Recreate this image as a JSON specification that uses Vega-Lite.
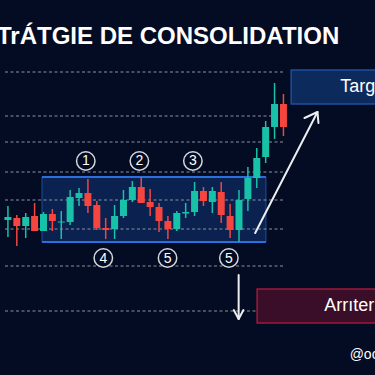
{
  "$schema": "https://vega.github.io/schema/vega-lite/v6.json",
  "width": 375,
  "height": 375,
  "autosize": {"type": "none"},
  "padding": 0,
  "background": "#030c22",
  "config": {"view": {"stroke": null}},
  "datasets": {
    "candles": [
      {"i": 0, "open": 41.33, "close": 42.13, "high": 45.07, "low": 36.8, "dir": "up"},
      {"i": 1, "open": 41.87, "close": 39.73, "high": 42.67, "low": 34.4, "dir": "down"},
      {"i": 2, "open": 39.73, "close": 42.13, "high": 43.2, "low": 36.53, "dir": "up"},
      {"i": 3, "open": 42.4, "close": 38.4, "high": 45.87, "low": 38.4, "dir": "down"},
      {"i": 4, "open": 38.4, "close": 42.93, "high": 43.47, "low": 38.4, "dir": "up"},
      {"i": 5, "open": 42.93, "close": 41.07, "high": 44.27, "low": 38.4, "dir": "down"},
      {"i": 6, "open": 40.67, "close": 40.93, "high": 43.73, "low": 36.27, "dir": "up"},
      {"i": 7, "open": 40.8, "close": 47.47, "high": 49.33, "low": 40.0, "dir": "up"},
      {"i": 8, "open": 47.2, "close": 48.53, "high": 49.87, "low": 45.07, "dir": "up"},
      {"i": 9, "open": 48.53, "close": 45.07, "high": 52.27, "low": 43.2, "dir": "down"},
      {"i": 10, "open": 45.33, "close": 39.2, "high": 46.4, "low": 38.67, "dir": "down"},
      {"i": 11, "open": 39.2, "close": 38.67, "high": 41.87, "low": 36.27, "dir": "down"},
      {"i": 12, "open": 38.93, "close": 42.4, "high": 45.33, "low": 36.27, "dir": "up"},
      {"i": 13, "open": 42.4, "close": 46.67, "high": 49.33, "low": 41.87, "dir": "up"},
      {"i": 14, "open": 46.67, "close": 50.13, "high": 51.73, "low": 46.13, "dir": "up"},
      {"i": 15, "open": 50.13, "close": 45.87, "high": 52.8, "low": 45.87, "dir": "down"},
      {"i": 16, "open": 46.13, "close": 44.8, "high": 49.6, "low": 42.4, "dir": "down"},
      {"i": 17, "open": 44.8, "close": 41.07, "high": 45.87, "low": 38.13, "dir": "down"},
      {"i": 18, "open": 41.07, "close": 38.93, "high": 42.4, "low": 36.27, "dir": "down"},
      {"i": 19, "open": 38.93, "close": 43.2, "high": 43.73, "low": 38.4, "dir": "up"},
      {"i": 20, "open": 43.07, "close": 43.47, "high": 45.87, "low": 41.87, "dir": "up"},
      {"i": 21, "open": 43.47, "close": 49.07, "high": 51.47, "low": 42.4, "dir": "up"},
      {"i": 22, "open": 49.07, "close": 46.4, "high": 50.13, "low": 45.07, "dir": "down"},
      {"i": 23, "open": 46.13, "close": 49.07, "high": 50.13, "low": 43.2, "dir": "up"},
      {"i": 24, "open": 48.8, "close": 42.67, "high": 51.47, "low": 40.53, "dir": "down"},
      {"i": 25, "open": 42.4, "close": 38.67, "high": 45.6, "low": 36.53, "dir": "down"},
      {"i": 26, "open": 38.67, "close": 46.67, "high": 49.33, "low": 35.47, "dir": "up"},
      {"i": 27, "open": 46.93, "close": 52.53, "high": 55.47, "low": 43.73, "dir": "up"},
      {"i": 28, "open": 52.53, "close": 57.87, "high": 60.53, "low": 49.87, "dir": "up"},
      {"i": 29, "open": 58.13, "close": 66.13, "high": 67.73, "low": 56.53, "dir": "up"},
      {"i": 30, "open": 66.13, "close": 72.27, "high": 77.87, "low": 62.93, "dir": "up"},
      {"i": 31, "open": 72.27, "close": 66.13, "high": 74.93, "low": 63.73, "dir": "down"}
    ],
    "levels": [
      {"price": 80.8}, {"price": 69.07}, {"price": 62.13}, {"price": 54.13},
      {"price": 46.67}, {"price": 38.93}, {"price": 29.07}, {"price": 17.07}
    ],
    "range": [{"from": 3.83, "to": 29.03, "top": 52.8, "bottom": 35.47}],
    "target": [{"from": 31.87, "to": 42, "top": 81.33, "bottom": 72.27, "label": "Target", "lx": 37.4, "ly": 76.8}],
    "stop": [{"from": 28.04, "to": 42, "top": 22.93, "bottom": 13.87, "label": "Arrıter", "lx": 35.6, "ly": 18.4}],
    "markers": [
      {"label": "1", "i": 8.76, "price": 57.07},
      {"label": "2", "i": 14.79, "price": 57.07},
      {"label": "3", "i": 20.81, "price": 57.07},
      {"label": "4", "i": 10.73, "price": 31.2},
      {"label": "5", "i": 17.96, "price": 31.2},
      {"label": "5", "i": 24.86, "price": 31.2}
    ],
    "arrows": [
      {"part": "upShaft", "seq": 1, "i": 27.82, "price": 37.87},
      {"part": "upShaft", "seq": 2, "i": 34.83, "price": 70.13},
      {"part": "upHead", "seq": 1, "i": 33.37, "price": 68.53},
      {"part": "upHead", "seq": 2, "i": 34.83, "price": 70.13},
      {"part": "upHead", "seq": 3, "i": 34.94, "price": 67.2},
      {"part": "downShaft", "seq": 1, "i": 25.96, "price": 26.67},
      {"part": "downShaft", "seq": 2, "i": 25.96, "price": 14.93},
      {"part": "downHead", "seq": 1, "i": 25.41, "price": 17.33},
      {"part": "downHead", "seq": 2, "i": 25.96, "price": 14.93},
      {"part": "downHead", "seq": 3, "i": 26.5, "price": 17.33}
    ],
    "titles": [{"text": "TrÁTGIE DE CONSOLIDATION", "i": -0.33, "price": 88.27}],
    "handle": [{"text": "@oc", "i": 38.45, "price": 5.33}]
  },
  "layer": [
    {
      "data": {"name": "range"},
      "mark": {"type": "rect", "fill": "#0b2251", "stroke": "#1c4f9e", "strokeWidth": 1},
      "encoding": {
        "x": {"field": "from", "type": "quantitative", "scale": {"domain": [-0.33, 40.74], "nice": false, "zero": false}, "axis": null},
        "x2": {"field": "to"},
        "y": {"field": "top", "type": "quantitative", "scale": {"domain": [0, 100], "nice": false, "zero": false}, "axis": null},
        "y2": {"field": "bottom"}
      }
    },
    {
      "data": {"name": "range"},
      "transform": [{"fold": ["top", "bottom"], "as": ["edge", "level"]}],
      "mark": {"type": "rule", "color": "#2b6fdc", "strokeWidth": 2},
      "encoding": {
        "x": {"field": "from", "type": "quantitative"},
        "x2": {"field": "to"},
        "y": {"field": "level", "type": "quantitative"}
      }
    },
    {
      "data": {"name": "levels"},
      "mark": {"type": "rule", "color": "#8a909c", "strokeWidth": 1.2, "strokeDash": [3, 2.5]},
      "encoding": {
        "x": {"datum": -0.33, "type": "quantitative"},
        "x2": {"datum": 31.2},
        "y": {"field": "price", "type": "quantitative"}
      }
    },
    {
      "data": {"name": "candles"},
      "mark": {"type": "rule", "strokeWidth": 1.5},
      "encoding": {
        "x": {"field": "i", "type": "quantitative"},
        "y": {"field": "low", "type": "quantitative"},
        "y2": {"field": "high"},
        "color": {"field": "dir", "type": "nominal", "scale": {"domain": ["up", "down"], "range": ["#17c2a8", "#f4463f"]}, "legend": null}
      }
    },
    {
      "data": {"name": "candles"},
      "mark": {"type": "bar", "size": 7, "minBandSize": 1.5},
      "encoding": {
        "x": {"field": "i", "type": "quantitative"},
        "y": {"field": "open", "type": "quantitative"},
        "y2": {"field": "close"},
        "color": {"field": "dir", "type": "nominal", "legend": null}
      }
    },
    {
      "data": {"name": "target"},
      "mark": {"type": "rect", "fill": "#0d2a5d", "stroke": "#1d4f9e", "strokeWidth": 1.5},
      "encoding": {
        "x": {"field": "from", "type": "quantitative"},
        "x2": {"field": "to"},
        "y": {"field": "top", "type": "quantitative"},
        "y2": {"field": "bottom"}
      }
    },
    {
      "data": {"name": "target"},
      "mark": {"type": "text", "align": "left", "baseline": "middle", "font": "Liberation Sans", "fontSize": 18, "color": "#ffffff"},
      "encoding": {
        "x": {"field": "lx", "type": "quantitative"},
        "y": {"field": "ly", "type": "quantitative"},
        "text": {"field": "label"}
      }
    },
    {
      "data": {"name": "stop"},
      "mark": {"type": "rect", "fill": "#3a0d28", "stroke": "#a0193c", "strokeWidth": 1.5},
      "encoding": {
        "x": {"field": "from", "type": "quantitative"},
        "x2": {"field": "to"},
        "y": {"field": "top", "type": "quantitative"},
        "y2": {"field": "bottom"}
      }
    },
    {
      "data": {"name": "stop"},
      "mark": {"type": "text", "align": "left", "baseline": "middle", "font": "Liberation Sans", "fontSize": 18, "color": "#ffffff"},
      "encoding": {
        "x": {"field": "lx", "type": "quantitative"},
        "y": {"field": "ly", "type": "quantitative"},
        "text": {"field": "label"}
      }
    },
    {
      "data": {"name": "arrows"},
      "mark": {"type": "line", "color": "#eceef2", "strokeWidth": 2, "strokeCap": "round", "strokeJoin": "round"},
      "encoding": {
        "x": {"field": "i", "type": "quantitative"},
        "y": {"field": "price", "type": "quantitative"},
        "detail": {"field": "part"},
        "order": {"field": "seq"}
      }
    },
    {
      "data": {"name": "markers"},
      "mark": {"type": "point", "shape": "circle", "filled": true, "fill": "#030c22", "stroke": "#d3d6dd", "strokeWidth": 1.5, "size": 340, "opacity": 1},
      "encoding": {
        "x": {"field": "i", "type": "quantitative"},
        "y": {"field": "price", "type": "quantitative"}
      }
    },
    {
      "data": {"name": "markers"},
      "mark": {"type": "text", "align": "center", "baseline": "middle", "font": "Liberation Sans", "fontSize": 14, "color": "#ffffff", "dy": 0.5},
      "encoding": {
        "x": {"field": "i", "type": "quantitative"},
        "y": {"field": "price", "type": "quantitative"},
        "text": {"field": "label"}
      }
    },
    {
      "data": {"name": "titles"},
      "mark": {"type": "text", "align": "left", "baseline": "alphabetic", "font": "Liberation Sans", "fontWeight": "bold", "fontSize": 24, "color": "#ffffff", "dx": -8},
      "encoding": {
        "x": {"field": "i", "type": "quantitative"},
        "y": {"field": "price", "type": "quantitative"},
        "text": {"field": "text"}
      }
    },
    {
      "data": {"name": "handle"},
      "mark": {"type": "text", "align": "left", "baseline": "middle", "font": "Liberation Sans", "fontSize": 14, "color": "#ffffff"},
      "encoding": {
        "x": {"field": "i", "type": "quantitative"},
        "y": {"field": "price", "type": "quantitative"},
        "text": {"field": "text"}
      }
    }
  ]
}
